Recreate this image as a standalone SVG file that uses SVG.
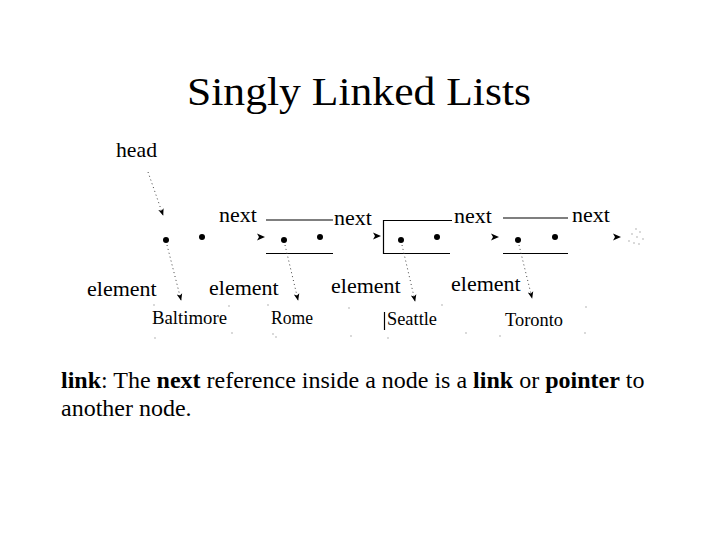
<svg xmlns="http://www.w3.org/2000/svg" xmlns:xlink="http://www.w3.org/1999/xlink" width="720" height="540" viewBox="0 0 720 540">
  <style>
    .t { font-family: "Liberation Serif", "Times New Roman", serif; fill: #000; }
    .lbl { font-size: 22px; }
    .sm { font-size: 18px; }
    .body { font-size: 24px; }
    .b { font-weight: bold; }
    .ln { stroke: #000; stroke-width: 1.2; fill: none; }
    .dot { fill: #000; }
    .dl { stroke: #444; stroke-width: 1; stroke-dasharray: 1 3; fill: none; }
    .faint { fill: #c8c8c8; }
  </style>
  <defs>
    <path id="ah" d="M-8,-3.5 L0,0 L-8,3.5 L-6,0 Z" fill="#000"/>
    <marker id="dm" viewBox="0 0 10 10" refX="9" refY="5" markerWidth="7" markerHeight="7" markerUnits="userSpaceOnUse" orient="auto">
      <path d="M0,1 L10,5 L0,9 L2.5,5 Z" fill="#000"/>
    </marker>
  </defs>
  <rect width="720" height="540" fill="#fff"/>

  <text id="title" class="t" x="187" y="105" font-size="39" textLength="344" lengthAdjust="spacingAndGlyphs">Singly Linked Lists</text>

  <g id="head">
    <text class="t lbl" x="116" y="157" textLength="41" lengthAdjust="spacingAndGlyphs">head</text>
  </g>

  <g id="node1">
    <circle class="dot" cx="166" cy="240" r="3"/>
    <circle class="dot" cx="202" cy="237" r="3"/>
    <text class="t lbl" x="219" y="222">next</text>
  </g>

  <g id="node2">
    <line class="ln" x1="266" y1="220" x2="333" y2="220"/>
    <line class="ln" x1="266" y1="253.5" x2="333" y2="253.5"/>
    <circle class="dot" cx="284" cy="240" r="3"/>
    <circle class="dot" cx="320" cy="237" r="3"/>
    <text class="t lbl" x="334" y="225">next</text>
  </g>

  <g id="node3">
    <path class="ln" d="M452,220.5 L383.5,220.5 L383.5,253.5 L450,253.5"/>
    <circle class="dot" cx="401" cy="240" r="3"/>
    <circle class="dot" cx="437" cy="237" r="3"/>
    <text class="t lbl" x="454" y="223">next</text>
  </g>

  <g id="node4">
    <line class="ln" x1="503" y1="218" x2="568" y2="218"/>
    <line class="ln" x1="503" y1="253.5" x2="568" y2="253.5"/>
    <circle class="dot" cx="518" cy="240" r="3"/>
    <circle class="dot" cx="555" cy="237" r="3"/>
    <text class="t lbl" x="572" y="222">next</text>
  </g>

  <g id="null">
    <circle class="faint" cx="636" cy="229" r="0.9"/>
    <circle class="faint" cx="640" cy="232" r="0.9"/>
    <circle class="faint" cx="632" cy="234" r="0.9"/>
    <circle class="faint" cx="637" cy="237" r="0.9"/>
    <circle class="faint" cx="643" cy="239" r="0.9"/>
    <circle class="faint" cx="629" cy="241" r="0.9"/>
    <circle class="faint" cx="634" cy="243" r="0.9"/>
    <circle class="faint" cx="639" cy="244" r="0.9"/>
  </g>

  <g id="elements">
    <text class="t lbl" x="87" y="296">element</text>
    <text class="t lbl" x="209" y="295">element</text>
    <text class="t lbl" x="331" y="293">element</text>
    <text class="t lbl" x="451" y="291">element</text>
  </g>

  <g id="baltimore">
    <text class="t sm" x="152" y="324" textLength="75" lengthAdjust="spacingAndGlyphs">Baltimore</text>
    <circle class="faint" cx="154" cy="305" r="0.9"/>
    <circle class="faint" cx="229" cy="306" r="0.9"/>
    <circle class="faint" cx="155" cy="338" r="0.9"/>
    <circle class="faint" cx="232" cy="333" r="0.9"/>
  </g>
  <g id="rome">
    <text class="t sm" x="271" y="324" textLength="42" lengthAdjust="spacingAndGlyphs">Rome</text>
    <circle class="faint" cx="268" cy="305" r="0.9"/>
    <circle class="faint" cx="273" cy="334" r="0.9"/>
    <circle class="faint" cx="276" cy="337" r="0.9"/>
  </g>
  <g id="seattle">
    <line class="ln" x1="384.5" y1="312" x2="384.5" y2="330"/>
    <text class="t sm" x="387" y="325" textLength="50" lengthAdjust="spacingAndGlyphs">Seattle</text>
    <circle class="faint" cx="349" cy="308" r="0.9"/>
    <circle class="faint" cx="351" cy="336" r="0.9"/>
    <circle class="faint" cx="388" cy="338" r="0.9"/>
    <circle class="faint" cx="442" cy="305" r="0.9"/>
    <circle class="faint" cx="466" cy="333" r="0.9"/>
  </g>
  <g id="toronto">
    <text class="t sm" x="505" y="326" textLength="58" lengthAdjust="spacingAndGlyphs">Toronto</text>
    <circle class="faint" cx="500" cy="336" r="0.9"/>
    <circle class="faint" cx="586" cy="307" r="0.9"/>
    <circle class="faint" cx="585" cy="333" r="0.9"/>
  </g>

  <g id="connectors">
    <path class="dl" d="M148,172 L163,215" marker-end="url(#dm)"/>
    <path class="dl" d="M167,245 L181,300" marker-end="url(#dm)"/>
    <path class="dl" d="M285,245 L298,300" marker-end="url(#dm)"/>
    <path class="dl" d="M402,245 L415,301" marker-end="url(#dm)"/>
    <path class="dl" d="M519,245 L532,298" marker-end="url(#dm)"/>
    <use xlink:href="#ah" x="265" y="237"/>
    <use xlink:href="#ah" x="381" y="236"/>
    <use xlink:href="#ah" x="499" y="237"/>
    <use xlink:href="#ah" x="621" y="237"/>
  </g>

  <g id="caption">
    <text class="t body" x="61" y="388"><tspan class="b">link</tspan>: The <tspan class="b">next</tspan> reference inside a node is a <tspan class="b">link</tspan> or <tspan class="b">pointer</tspan> to</text>
    <text class="t body" x="61" y="416">another node.</text>
  </g>
</svg>
